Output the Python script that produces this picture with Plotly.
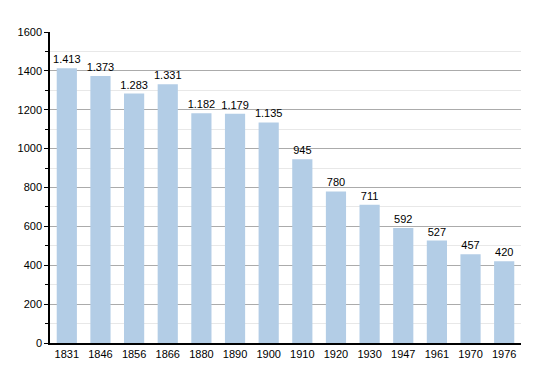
import plotly.graph_objects as go

years = ["1831", "1846", "1856", "1866", "1880", "1890", "1900", "1910", "1920", "1930", "1947", "1961", "1970", "1976"]
population = [1413, 1373, 1283, 1331, 1182, 1179, 1135, 945, 780, 711, 592, 527, 457, 420]
labels = [f"{v:,}".replace(",", ".") for v in population]

fig = go.Figure()
fig.add_trace(go.Bar(
    x=years, y=population, text=labels, textposition="outside",
    constraintext="none",
    marker=dict(color="#b3cde6", line=dict(width=0)),
    width=0.6, cliponaxis=False,
    textfont=dict(size=11, color="#000000", family="Liberation Sans, Arial, sans-serif"),
))
fig.update_layout(
    width=550, height=373,
    margin=dict(l=42, r=37, t=24, b=38, autoexpand=False),
    plot_bgcolor="white", paper_bgcolor="white",
    showlegend=False,
    font=dict(family="Liberation Sans, Arial, sans-serif", size=11, color="#000000"),
    bargap=0.4,
)
fig.update_xaxes(
    showline=True, linecolor="black", linewidth=1.5, ticks="", showgrid=False,
    tickfont=dict(size=11), ticklen=0,
)
fig.update_yaxes(
    range=[0, 1600], dtick=200, showline=True, linecolor="black", linewidth=1.5,
    ticks="outside", ticklen=4, tickcolor="black",
    showgrid=True, gridcolor="#ababab", gridwidth=1,
    minor=dict(dtick=100, showgrid=True, gridcolor="#e8e8e8", ticks="outside", ticklen=3, tickcolor="black"),
    zeroline=False, tickfont=dict(size=11),
)
fig.write_html("out.html")
